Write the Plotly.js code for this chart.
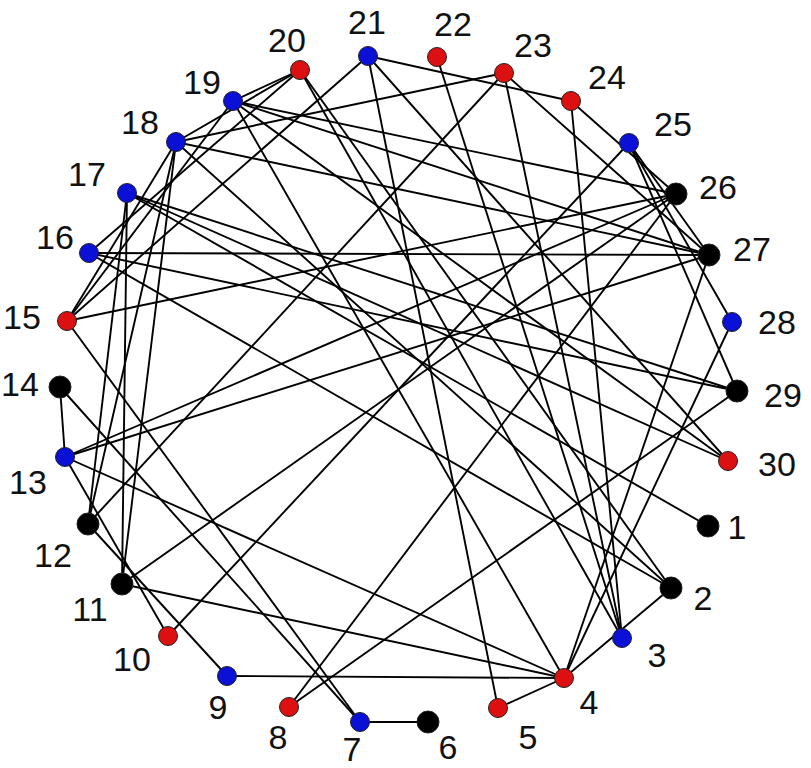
<!DOCTYPE html>
<html><head><meta charset="utf-8">
<script src="https://cdn.plot.ly/plotly-3.0.1.min.js"></script>
<style>html,body{margin:0;padding:0;background:#fff;}#chart{width:811px;height:768px;}</style>
</head><body><div id="chart"></div>
<script>
// ---- data ----
const nodeIds = [1,2,3,4,5,6,7,8,9,10,11,12,13,14,15,16,17,18,19,20,21,22,23,24,25,26,27,28,29,30];
const nodeX = [708,671,622,564,498,428,360,289,227,168,122,88,65,60,67,89,127,176,233,300,368,437,504,571,629,676,709,732,737,728];
const nodeY = [526,588,638,678,708,722,722,707,676,636,584,524,457,387,321,253,193,142,101,70,56,57,73,101,143,194,255,322,391,461];
const nodeType = ['k','k','b','r','r','k','b','r','b','r','k','k','b','k','r','b','b','b','b','r','b','r','r','r','b','k','k','b','k','r'];
const edgeFrom = [1,2,2,2,2,3,3,3,3,4,4,4,4,4,4,4,5,6,7,7,8,8,9,10,10,11,11,11,12,12,12,13,13,13,15,15,15,15,16,16,16,17,17,18,18,18,19,19,19,19,21,21,23,24,25,25,25];
const edgeTo   = [17,4,16,18,20,20,22,23,24,5,9,11,13,19,28,27,21,7,14,15,26,29,12,13,25,17,18,26,17,18,23,14,26,27,21,26,18,19,20,27,29,29,30,20,23,27,20,26,27,30,24,30,27,26,28,29,27];

// ---- style ----
const colorMap = {k:'#000000', b:'#0a10d6', r:'#dc1010'};
const sizeMap = {k:22, b:19, r:19};
const labelDX = [29,32,35,25,30,20,-8,-11,-9,-36,-32,-35,-37,-40,-45,-34,-40,-36,-31,-13,-1,16,29,36,44,42,43,45,46,49];
const labelDY = [4,13,20,27,32,28,30,33,34,26,28,34,28,0,-1,-13,-16,-17,-16,-27,-31,-30,-25,-21,-16,-4,-3,3,7,6];

const ex = [], ey = [];
for (let i = 0; i < edgeFrom.length; i++) {
  const a = edgeFrom[i]-1, b = edgeTo[i]-1;
  ex.push(nodeX[a], nodeX[b], null);
  ey.push(nodeY[a], nodeY[b], null);
}
const edges = {type:'scatter', mode:'lines', x:ex, y:ey, hoverinfo:'skip',
  line:{color:'#000', width:1.9}, showlegend:false};
const nodes = {type:'scatter', mode:'markers', x:nodeX, y:nodeY, text:nodeIds.map(String),
  marker:{color:nodeType.map(t=>colorMap[t]), size:nodeType.map(t=>sizeMap[t]), opacity:1,
    line:{color:'#222', width:1}}, showlegend:false};
const labels = {type:'scatter', mode:'text', x:nodeX.map((v,i)=>v+labelDX[i]), y:nodeY.map((v,i)=>v+labelDY[i]),
  text:nodeIds.map(String), textposition:'middle center', cliponaxis:false,
  textfont:{family:'Liberation Sans, Arial, Helvetica, sans-serif', size:34, color:'#111'}, showlegend:false, hoverinfo:'skip'};

const layout = {
  width:811, height:768, margin:{l:0,r:0,t:0,b:0},
  paper_bgcolor:'#fff', plot_bgcolor:'#fff',
  xaxis:{range:[0,811], visible:false, fixedrange:true},
  yaxis:{range:[768,0], visible:false, fixedrange:true},
  showlegend:false
};
Plotly.newPlot('chart', [edges, nodes, labels], layout, {staticPlot:true, displayModeBar:false});
</script>
</body></html>
